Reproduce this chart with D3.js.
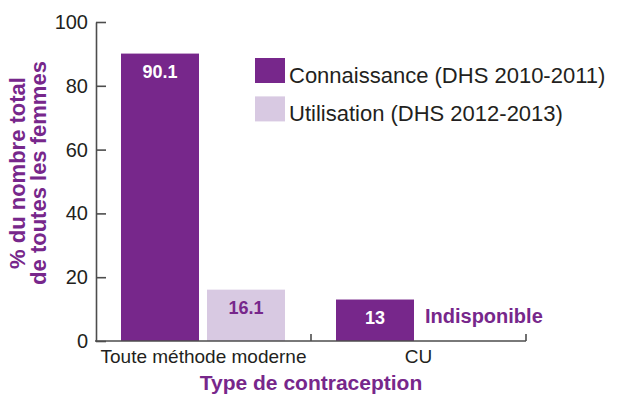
<!DOCTYPE html>
<html>
<head>
<meta charset="utf-8">
<script src="https://cdn.jsdelivr.net/npm/d3@7"></script>
<style>
  body { margin: 0; background: #fff; }
  svg { display: block; font-family: "Liberation Sans", Arial, Helvetica, sans-serif; }
  .axis path, .axis line { stroke: #4d4d4d; stroke-width: 1.6; }
  .axis text { fill: #231f20; }
</style>
</head>
<body>
<svg width="620" height="394"></svg>
<script>
const categories = ["Toute méthode moderne", "CU"];
const series = ["Connaissance (DHS 2010-2011)", "Utilisation (DHS 2012-2013)"];
const connaissance = [90.1, 13];
const utilisation = [16.1, null];
const yTicks = [0, 20, 40, 60, 80, 100];
const missingLabel = "Indisponible";

const purple = "#77278b";
const lilac = "#d8c9e2";
const colors = [purple, lilac];
const labelColors = ["#fff", purple];

const svg = d3.select("svg");

const x = d3.scaleBand().domain(categories).range([96, 526]);
const sub = d3.scaleBand().domain(series).range([25, 189]).paddingInner(0.093);
const y = d3.scaleLinear().domain([0, 100]).range([341, 22]);

const values = series.map((s, i) => (i === 0 ? connaissance : utilisation));

// bars
const groups = svg.selectAll("g.cat")
  .data(categories)
  .join("g")
  .attr("class", "cat")
  .attr("transform", d => `translate(${x(d)},0)`);

groups.each(function (cat, ci) {
  const g = d3.select(this);
  series.forEach((s, si) => {
    const v = values[si][ci];
    if (v == null) {
      g.append("text")
        .attr("x", sub(s) + 3)
        .attr("y", y(0) - 18)
        .attr("fill", purple)
        .attr("font-weight", "bold")
        .attr("font-size", 20)
        .text(missingLabel);
      return;
    }
    g.append("rect")
      .attr("x", sub(s))
      .attr("width", sub.bandwidth())
      .attr("y", y(v))
      .attr("height", y(0) - y(v))
      .attr("fill", colors[si]);
    g.append("text")
      .attr("x", sub(s) + sub.bandwidth() / 2)
      .attr("y", y(v) + 24)
      .attr("text-anchor", "middle")
      .attr("fill", labelColors[si])
      .attr("font-weight", "bold")
      .attr("font-size", 18)
      .text(v);
  });
});

// y axis
const yAxis = svg.append("g")
  .attr("class", "axis")
  .attr("transform", "translate(96,0)")
  .call(d3.axisLeft(y).tickValues(yTicks).tickSizeInner(-10).tickSizeOuter(0).tickPadding(8));
yAxis.selectAll("text").attr("font-size", 20).attr("font-family", null);

// x axis
const xAxis = svg.append("g")
  .attr("class", "axis")
  .attr("transform", `translate(0,${y(0)})`)
  .call(d3.axisBottom(x).tickSize(0).tickPadding(6));
xAxis.select(".domain").attr("d", `M95,0H${x.range()[1]}`);
xAxis.selectAll("text").attr("font-size", 19).attr("font-family", null).attr("dy", "0.85em");
xAxis.selectAll("line.sep")
  .data(categories)
  .join("line")
  .attr("class", "sep")
  .attr("x1", d => x(d) + x.bandwidth())
  .attr("x2", d => x(d) + x.bandwidth())
  .attr("y1", 0)
  .attr("y2", -7);

// axis titles
svg.append("text")
  .attr("x", (x.range()[0] + x.range()[1]) / 2)
  .attr("y", 390)
  .attr("text-anchor", "middle")
  .attr("fill", purple)
  .attr("font-weight", "bold")
  .attr("font-size", 21)
  .text("Type de contraception");

const yTitle = svg.append("text")
  .attr("transform", "translate(0,173) rotate(-90)")
  .attr("text-anchor", "middle")
  .attr("fill", purple)
  .attr("font-weight", "bold")
  .attr("font-size", 22);
yTitle.append("tspan").attr("x", 0).attr("y", 25).text("% du nombre total");
yTitle.append("tspan").attr("x", 0).attr("y", 46).text("de toutes les femmes");

// legend
const legend = svg.append("g").attr("transform", "translate(255,58)");
const item = legend.selectAll("g")
  .data(series)
  .join("g")
  .attr("transform", (d, i) => `translate(0,${i * 38.4})`);
item.append("rect")
  .attr("width", 30)
  .attr("height", 25)
  .attr("fill", (d, i) => colors[i]);
item.append("text")
  .attr("x", 34)
  .attr("y", 25)
  .attr("fill", "#231f20")
  .attr("font-size", 22)
  .text(d => d);
</script>
</body>
</html>
